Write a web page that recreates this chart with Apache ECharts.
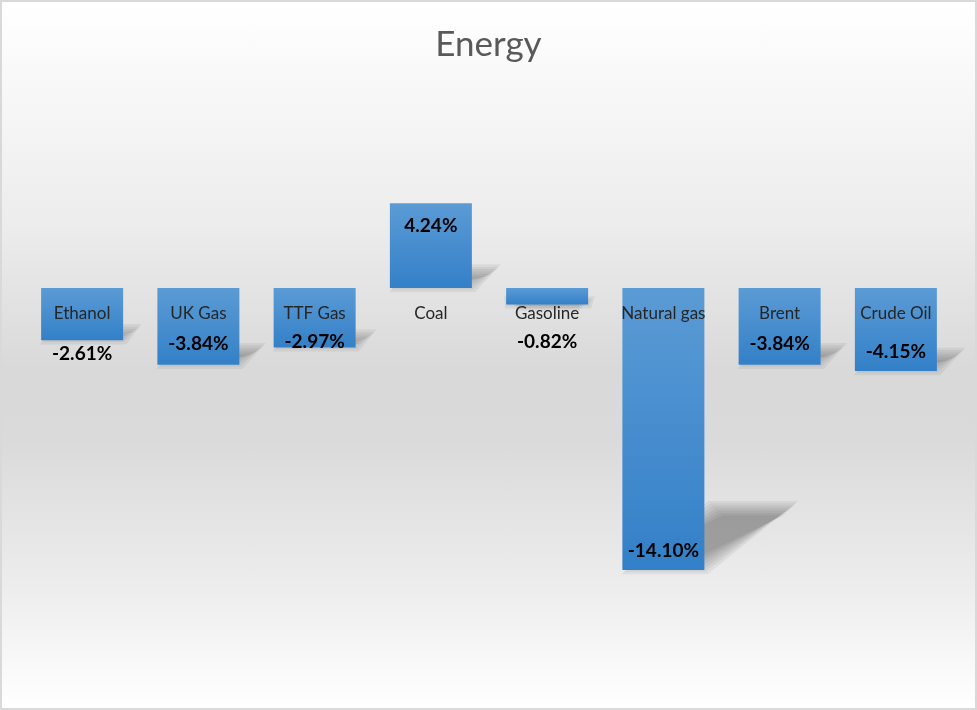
<!DOCTYPE html>
<html>
<head>
<meta charset="utf-8">
<script src="https://cdn.jsdelivr.net/npm/echarts@6/dist/echarts.min.js"></script>
<style>
html,body{margin:0;padding:0;background:#fff;}
#c{position:absolute;left:0;top:0;width:977px;height:710px;box-sizing:border-box;border:2px solid #d9d9d9;
background:linear-gradient(to bottom,#ffffff 0%,#ececec 32%,#d9d9d9 52%,#dadada 62%,#ececec 82%,#ffffff 100%);}
#chart{width:973px;height:706px;}
</style>
</head>
<body>
<div id="c"><div id="chart"></div></div>
<script>
const categories = ['Ethanol','UK Gas','TTF Gas','Coal','Gasoline','Natural gas','Brent','Crude Oil'];
const changes = [-2.61, -3.84, -2.97, 4.24, -0.82, -14.10, -3.84, -4.15];
// label placement relative to bar end
const labelPlacement = ['outside','inside','inside','inside','outside','inside','inside','inside'];
const labelGap = [4, 11, -4, 13, 27, 9, 11, 9];

const chart = echarts.init(document.getElementById('chart'), null, {renderer:'canvas'});
const FONT = 'Lato, "Open Sans", sans-serif';

const barData = changes.map((v,i)=>{
  const neg = v < 0;
  let pos;
  if (labelPlacement[i] === 'inside') pos = neg ? 'insideBottom' : 'insideTop';
  else pos = neg ? 'bottom' : 'top';
  return {value:v, label:{position:pos, distance:labelGap[i]}};
});

const yMin = -15, yMax = 5;
const gridTop = 186, gridBottom = 120, chartH = 706;
const plotH = chartH - gridTop - gridBottom;
// axis sits on the zero line: shift from the grid bottom up to the value 0
const zeroOffset = -plotH * (0 - yMin) / (yMax - yMin);

const option = {
  animation:false,
  title:{text:'Energy', left:'center', top:20,
    textStyle:{fontFamily:FONT, fontSize:35, fontWeight:'normal', color:'#595959'}},
  grid:{left:22, right:21, top:gridTop, bottom:gridBottom},
  xAxis:{type:'category', data:categories, z:10, position:'bottom', offset:zeroOffset,
    axisLine:{show:false, onZero:false}, axisTick:{show:false}, splitLine:{show:false},
    axisLabel:{margin:17, fontFamily:FONT, fontSize:17, color:'#262626'}},
  yAxis:{type:'value', min:yMin, max:yMax,
    axisLine:{show:false}, axisTick:{show:false}, axisLabel:{show:false}, splitLine:{show:false}},
  series:[
    {
      type:'custom', z:1, silent:true,
      data:changes.map((v,i)=>[i,v]),
      renderItem:function(params, api){
        const i = api.value(0), v = api.value(1);
        const p0 = api.coord([i,0]), p1 = api.coord([i,v]);
        const w = api.size([1,0])[0]*0.705;
        const xl = p0[0]-w/2, xr = p0[0]+w/2;
        const yb = Math.max(p0[1],p1[1]);
        const h = Math.abs(p1[1]-p0[1]);
        const dx = h*0.33, dy = h*0.23;
        const layers = [];
        for (let k = 0; k < 7; k++) {
          const e = (k - 3) * 2.4;
          layers.push({type:'polygon',
            shape:{points:[[xl+6-e,yb-3+e],[xr-4+e,yb-3+e],[xr+dx-6+e,yb-dy+3-e],[xl+dx-e,yb-dy+3-e]]},
            style:{fill:'rgba(0,0,0,0.055)'}});
        }
        return {type:'group', children:layers};
      }
    },
    {
      type:'bar', z:3, barWidth:82,
      data:barData,
      itemStyle:{color:{type:'linear',x:0,y:0,x2:0,y2:1,
        colorStops:[{offset:0,color:'#5b9bd5'},{offset:1,color:'#3380c8'}]}},
      label:{show:true, fontFamily:FONT, fontSize:19, fontWeight:'bold', color:'#000', lineHeight:20,
        formatter:p=>p.value.toFixed(2)+'%'}
    }
  ]
};
chart.setOption(option);
</script>
</body>
</html>
